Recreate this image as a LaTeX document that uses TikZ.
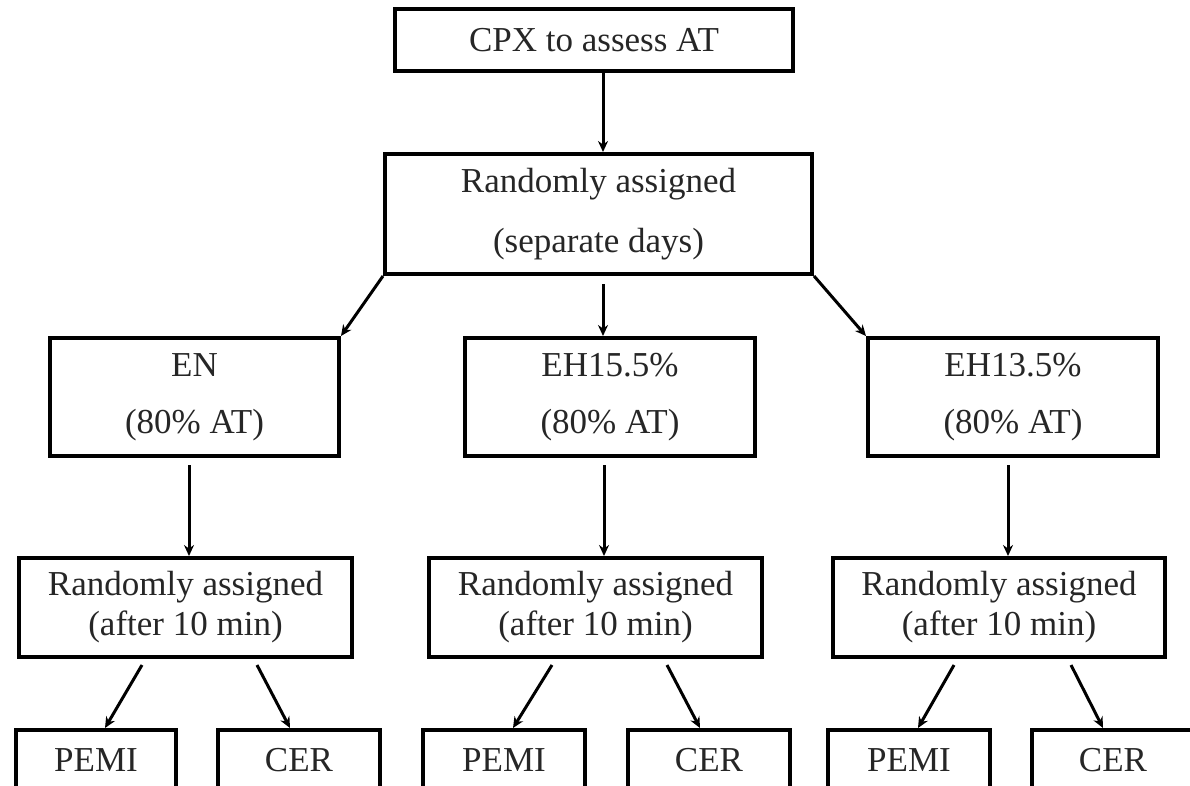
\documentclass[tikz,border=0pt]{standalone}
\usepackage{fontspec}
\setmainfont{Liberation Serif}
\usetikzlibrary{arrows.meta}
\begin{document}
\begin{tikzpicture}[x=1pt,y=-1pt,
  box/.style={draw=black, line width=4pt, inner sep=0pt, align=center, text=black!85},
  one/.style={font=\fontsize{35}{40}\selectfont},
  wide/.style={font=\fontsize{35}{57}\selectfont},
  wider/.style={font=\fontsize{35}{60}\selectfont},
  arr/.style={line width=3pt, -{Stealth[length=11pt,width=10pt]}}]
\useasboundingbox (0,0) rectangle (1190,785);
% level 0
\node[box, one, minimum width=398, minimum height=62] (top) at (594,40) {CPX to assess AT};
% level 1
\node[box, wider, minimum width=427, minimum height=120] (r1) at (598.5,214) {Randomly assigned\\(separate days)};
% level 2
\node[box, wide, minimum width=289, minimum height=118] (en) at (194.5,397) {EN\\(80\% AT)};
\node[box, wide, minimum width=290, minimum height=118] (eha) at (610,397) {EH15.5\%\\(80\% AT)};
\node[box, wide, minimum width=290, minimum height=118] (ehb) at (1013,397) {EH13.5\%\\(80\% AT)};
% level 3
\node[box, one, minimum width=333, minimum height=99] (ra) at (185.5,607.5) {Randomly assigned\\(after 10 min)};
\node[box, one, minimum width=333, minimum height=99] (rb) at (595.5,607.5) {Randomly assigned\\(after 10 min)};
\node[box, one, minimum width=332, minimum height=99] (rc) at (999,607.5) {Randomly assigned\\(after 10 min)};
% level 4
\node[box, one, minimum width=160, minimum height=60] (pa) at (96,760) {PEMI};
\node[box, one, minimum width=162, minimum height=60] (ca) at (299,760) {CER};
\node[box, one, minimum width=162, minimum height=60] (pb) at (504,760) {PEMI};
\node[box, one, minimum width=162, minimum height=60] (cb) at (709,760) {CER};
\node[box, one, minimum width=162, minimum height=60] (pc) at (909,760) {PEMI};
\node[box, one, minimum width=162, minimum height=60] (cc) at (1113,760) {CER};
% connectors
\draw[arr] ([xshift=9pt]top.south) -- ([xshift=9pt]top.south |- r1.north);
\draw[arr] (r1.south west) -- (en.north east);
\draw[arr] ([xshift=4.5pt,yshift=-8pt]r1.south) -- ([xshift=4.5pt]r1.south |- eha.north);
\draw[arr] (r1.south east) -- (ehb.north west);
\draw[arr] ([xshift=-5.5pt,yshift=-7pt]en.south) -- ([xshift=-5.5pt]en.south |- ra.north);
\draw[arr] ([xshift=-6pt,yshift=-7pt]eha.south) -- ([xshift=-6pt]eha.south |- rb.north);
\draw[arr] ([xshift=-5pt,yshift=-7pt]ehb.south) -- ([xshift=-5pt]ehb.south |- rc.north);
\draw[arr] ([xshift=-43.5pt,yshift=-6pt]ra.south) -- ([xshift=9pt]pa.north);
\draw[arr] ([xshift=71.5pt,yshift=-6pt]ra.south) -- ([xshift=-9pt]ca.north);
\draw[arr] ([xshift=-43.5pt,yshift=-6pt]rb.south) -- ([xshift=9pt]pb.north);
\draw[arr] ([xshift=71.5pt,yshift=-6pt]rb.south) -- ([xshift=-9pt]cb.north);
\draw[arr] ([xshift=-45pt,yshift=-6pt]rc.south) -- ([xshift=9pt]pc.north);
\draw[arr] ([xshift=72pt,yshift=-6pt]rc.south) -- ([xshift=-10pt]cc.north);
\end{tikzpicture}
\end{document}
